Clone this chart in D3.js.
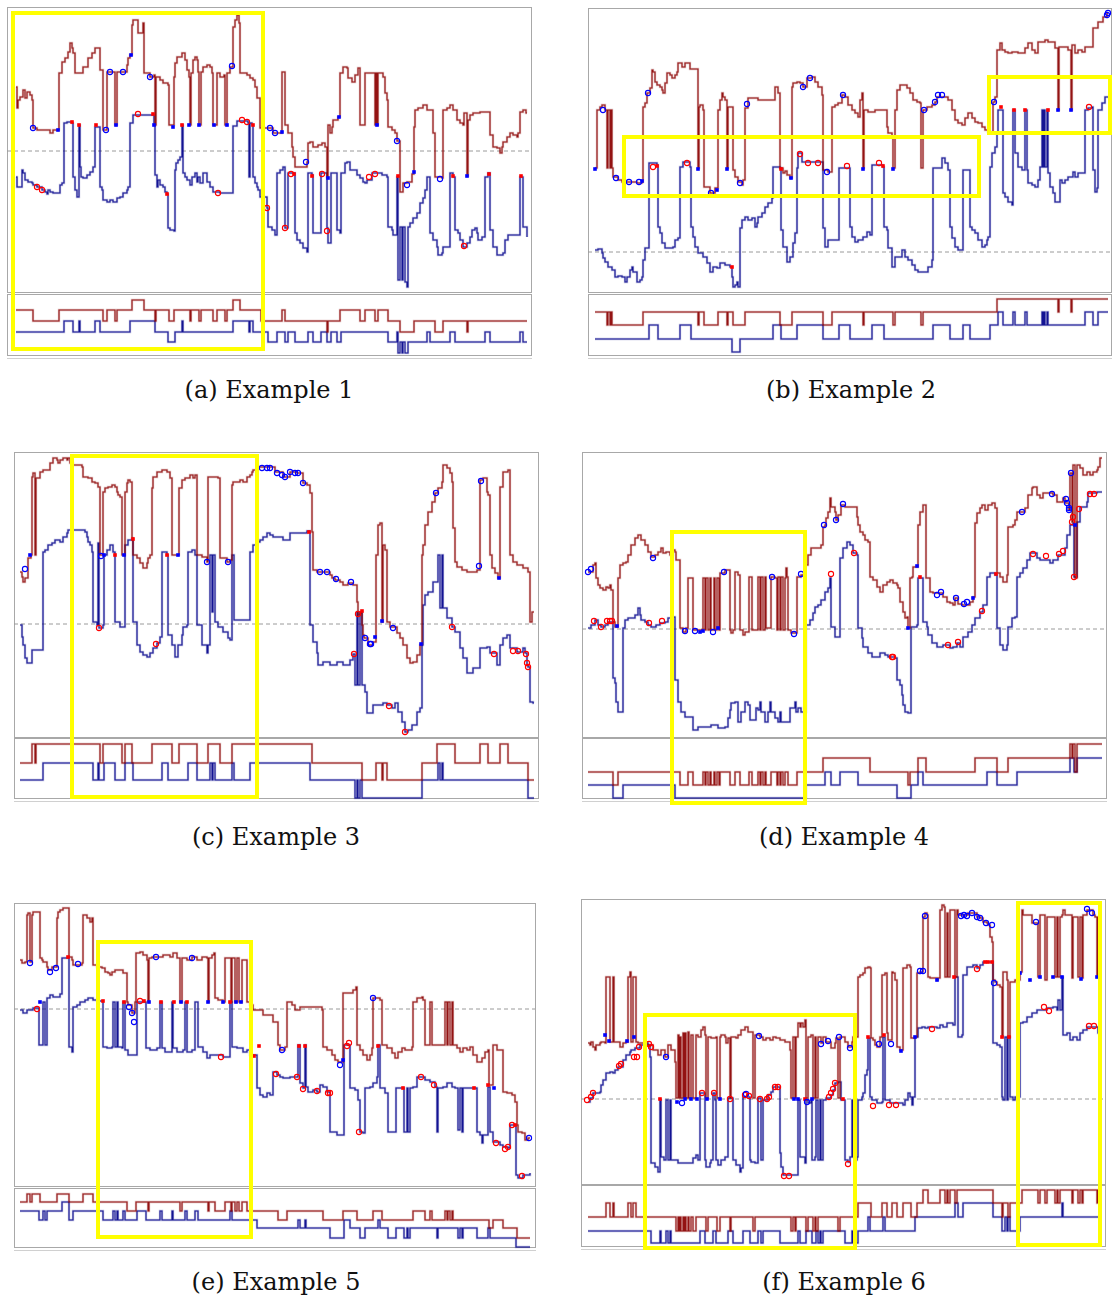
<!DOCTYPE html>
<html><head><meta charset="utf-8">
<script src="https://cdn.jsdelivr.net/npm/d3@7"></script>
<style>body{margin:0;background:#fff;} svg{display:block;}</style>
</head><body>
<svg id="chart" width="1113" height="1299"></svg>
<script>
// ===== Example 1 =====
const aRed=[[9,205],[10,184],[11,192],[13,195],[16,202],[18,194],[20,200],[23,197],[25,192],[26,164],[30,162],[43,159],[46,162],[52,219],[55,230],[58,234],[61,240],[63,249],[65,244],[66,239],[68,219],[76,225],[81,234],[85,239],[88,244],[93,222],[96,162],[100,220],[108,167],[110,220],[120,227],[121,234],[123,237],[125,267],[126,272],[131,259],[136,269],[137,219],[143,215],[147,217],[148,167],[149,215],[153,212],[156,209],[161,207],[162,167],[167,215],[168,229],[170,235],[175,239],[178,232],[180,222],[182,215],[183,167],[184,219],[186,232],[188,235],[190,232],[191,220],[192,167],[194,220],[196,225],[200,227],[203,225],[205,219],[206,167],[210,219],[213,215],[217,217],[218,167],[220,219],[223,225],[226,265],[228,272],[230,277],[232,269],[233,219],[240,217],[243,214],[246,212],[248,205],[250,194],[253,164],[263,164],[266,159],[275,220],[278,167],[281,159],[285,145],[286,135],[288,125],[300,130],[301,149],[303,150],[306,145],[311,147],[315,149],[318,145],[320,115],[321,167],[323,159],[325,165],[326,172],[331,175],[333,219],[336,225],[340,224],[341,214],[345,210],[348,217],[351,224],[353,167],[358,219],[368,167],[369,219],[370,167],[371,219],[376,215],[378,199],[380,192],[381,165],[385,162],[388,159],[390,151],[393,100],[396,109],[400,110],[405,118],[407,165],[408,182],[411,184],[416,187],[420,182],[426,159],[428,115],[435,114],[436,182],[440,184],[443,187],[446,182],[450,172],[453,169],[456,167],[457,179],[460,116],[461,172],[463,177],[466,179],[473,180],[483,157],[486,145],[490,144],[493,139],[495,145],[496,150],[500,155],[503,159],[506,157],[510,155],[511,159],[513,180],[516,182],[519,179],[520,179]];
const aBlue=[[9,115],[10,105],[15,122],[16,119],[18,112],[21,110],[25,109],[26,107],[30,105],[35,102],[38,100],[40,98],[41,102],[43,100],[46,99],[53,107],[55,109],[57,169],[60,170],[65,169],[66,115],[68,102],[70,95],[72,167],[73,125],[74,115],[76,114],[80,117],[83,120],[86,125],[88,165],[93,105],[95,102],[96,92],[100,90],[103,92],[106,90],[110,94],[113,95],[116,99],[120,102],[121,105],[123,169],[126,177],[146,177],[147,167],[148,117],[150,105],[151,112],[153,107],[156,105],[158,100],[160,98],[161,64],[163,62],[167,61],[168,122],[169,129],[171,132],[173,135],[175,167],[176,119],[178,115],[180,112],[183,107],[185,115],[188,119],[190,110],[191,115],[193,109],[196,119],[200,110],[203,105],[206,100],[213,99],[226,166],[230,171],[241,169],[242,115],[243,169],[245,167],[246,115],[248,109],[250,105],[251,102],[253,95],[260,84],[261,65],[265,62],[268,57],[270,119],[273,122],[276,125],[278,64],[281,119],[288,59],[290,52],[293,49],[296,44],[300,40],[301,119],[305,117],[306,59],[314,119],[320,64],[321,49],[324,119],[330,62],[333,59],[334,119],[338,129],[340,130],[343,122],[350,117],[353,114],[356,110],[358,109],[360,112],[365,119],[375,117],[380,115],[381,65],[385,62],[386,57],[390,115],[391,12],[393,65],[395,12],[396,65],[398,10],[400,5],[401,65],[403,69],[406,74],[410,79],[413,89],[416,94],[418,102],[420,115],[423,59],[426,52],[430,45],[431,37],[435,39],[436,45],[443,119],[446,115],[448,62],[451,59],[453,52],[456,45],[460,49],[463,55],[465,62],[468,64],[470,59],[471,52],[475,55],[478,115],[481,119],[483,62],[486,45],[490,37],[496,39],[498,52],[501,57],[513,115],[516,65],[520,55]];
const aDots=[[26,164,'bo'],[51,162,'bf'],[103,220,'bo'],[116,220,'bo'],[124,237,'bf'],[143,215,'bo'],[109,167,'bf'],[99,162,'bo'],[147,167,'bf'],[166,165,'bf'],[182,167,'bf'],[192,167,'bf'],[207,167,'bf'],[220,167,'bf'],[225,226,'bo'],[65,170,'rf'],[72,167,'rf'],[89,167,'rf'],[131,178,'ro'],[146,178,'rf'],[160,98,'rf'],[175,167,'rf'],[211,99,'ro'],[235,172,'ro'],[240,170,'ro'],[246,167,'rf'],[30,105,'ro'],[35,102,'ro'],[263,164,'bo'],[268,159,'bo'],[275,160,'bf'],[299,130,'bo'],[332,175,'bf'],[370,167,'bf'],[390,151,'bo'],[407,120,'bf'],[433,113,'bo'],[460,116,'bf'],[400,107,'bo'],[260,84,'ro'],[278,64,'ro'],[284,118,'ro'],[287,118,'rf'],[305,116,'rf'],[315,118,'ro'],[320,61,'ro'],[321,114,'bf'],[362,115,'ro'],[368,118,'ro'],[391,116,'rf'],[457,46,'ro'],[446,116,'rf'],[482,118,'rf'],[514,116,'rf']];
const aRedLow=[[9,46],[26,35],[52,46],[96,35],[100,46],[108,35],[110,46],[125,56],[137,46],[148,35],[149,46],[162,35],[167,46],[183,35],[184,46],[192,35],[194,46],[206,35],[210,46],[218,35],[220,46],[226,56],[233,46],[254,35],[275,46],[278,35],[320,24],[321,35],[333,46],[353,35],[358,46],[368,35],[371,46],[381,35],[393,24],[407,35],[428,24],[436,35],[460,24],[461,35],[520,35]];
const aBlueLow=[[9,24],[57,35],[66,24],[72,35],[73,24],[88,35],[93,24],[123,35],[148,24],[161,14],[168,24],[175,35],[176,24],[226,35],[242,24],[243,35],[246,24],[261,14],[270,24],[278,14],[281,24],[288,14],[301,24],[306,14],[314,24],[320,14],[324,24],[330,14],[334,24],[381,14],[390,24],[391,3],[393,14],[395,3],[396,14],[398,3],[401,14],[420,24],[423,14],[443,24],[448,14],[478,24],[483,14],[513,24],[516,14],[520,14]];
const aRects=[[6,256,279,-57]];

// ===== Example 2 =====
const bRed=[[7,124],[9,182],[12,185],[14,187],[17,182],[19,124],[20,182],[22,124],[23,182],[24,124],[25,115],[30,112],[34,110],[49,109],[54,110],[55,185],[57,189],[59,199],[62,204],[64,222],[65,220],[67,210],[69,207],[72,205],[74,202],[75,199],[77,209],[79,219],[82,217],[84,214],[87,217],[89,220],[90,229],[94,225],[97,229],[102,223],[110,124],[111,185],[112,187],[115,182],[116,105],[122,99],[127,104],[130,182],[132,192],[134,199],[135,195],[137,192],[139,124],[140,185],[145,122],[147,115],[150,110],[154,107],[155,112],[157,184],[160,194],[170,192],[187,205],[190,199],[192,124],[195,119],[197,121],[199,117],[202,114],[204,205],[205,209],[209,210],[212,209],[215,205],[219,214],[224,215],[227,210],[230,205],[234,197],[235,122],[240,120],[244,185],[247,187],[250,189],[254,197],[257,195],[260,187],[264,182],[267,179],[270,175],[272,192],[274,199],[275,124],[276,182],[280,180],[287,182],[299,165],[300,159],[304,155],[305,124],[307,182],[309,202],[312,207],[319,204],[322,199],[325,192],[329,190],[332,189],[333,124],[335,182],[339,185],[344,187],[347,190],[349,195],[360,192],[364,182],[367,172],[370,169],[374,167],[377,174],[380,179],[384,174],[387,170],[390,169],[394,165],[397,162],[400,160],[405,190],[407,195],[409,242],[412,249],[414,242],[417,240],[420,239],[424,240],[430,239],[437,244],[440,249],[444,242],[447,239],[450,250],[457,252],[460,250],[467,244],[470,182],[471,245],[480,242],[483,182],[484,247],[487,239],[490,242],[494,240],[497,245],[505,264],[510,270],[515,275],[519,279],[520,279]];
const bBlue=[[7,42],[10,43],[14,39],[15,34],[17,30],[20,25],[24,22],[27,15],[30,16],[34,15],[37,10],[39,15],[42,22],[44,25],[45,20],[49,10],[52,12],[54,15],[55,32],[57,44],[61,129],[69,127],[70,65],[72,59],[74,49],[77,44],[85,45],[87,52],[90,54],[92,125],[95,130],[102,125],[103,65],[105,55],[107,45],[110,39],[115,35],[119,29],[122,20],[125,25],[129,24],[132,29],[137,27],[142,25],[144,15],[145,5],[147,7],[149,10],[150,5],[152,64],[154,72],[157,75],[160,72],[164,74],[167,65],[169,69],[170,75],[174,79],[177,85],[180,89],[184,94],[185,125],[192,124],[193,62],[195,45],[199,30],[202,35],[205,49],[207,59],[209,124],[210,139],[214,130],[235,64],[237,45],[240,52],[251,124],[262,65],[264,55],[267,50],[270,52],[275,55],[279,60],[282,57],[284,127],[295,125],[296,65],[299,62],[300,44],[304,25],[307,35],[314,42],[317,35],[320,32],[324,27],[327,22],[330,20],[340,25],[344,32],[345,124],[354,134],[357,129],[360,122],[362,65],[364,54],[367,45],[370,42],[375,122],[382,65],[384,62],[387,59],[390,52],[394,45],[397,47],[399,52],[400,55],[402,125],[404,139],[407,145],[409,159],[410,182],[415,99],[417,95],[420,90],[424,87],[425,182],[427,139],[430,125],[434,122],[437,182],[439,122],[440,109],[444,107],[447,105],[450,112],[452,125],[454,182],[455,125],[456,182],[457,125],[459,182],[460,119],[462,105],[465,99],[467,90],[472,112],[474,109],[477,112],[480,115],[485,120],[487,115],[490,119],[497,182],[500,184],[504,185],[505,122],[507,100],[509,104],[510,182],[514,189],[517,195],[520,195]];
const bDots=[[7,123,'bf'],[15,182,'bo'],[28,114,'bo'],[41,110,'bo'],[51,110,'bo'],[54,111,'bf'],[60,199,'bo'],[110,123,'bf'],[123,99,'bo'],[129,102,'bf'],[139,123,'bf'],[152,109,'bo'],[159,188,'bo'],[193,123,'rf'],[203,114,'bf'],[215,205,'bo'],[222,214,'bo'],[239,120,'bo'],[255,197,'bo'],[65,125,'ro'],[69,126,'rf'],[99,129,'ro'],[144,25,'rf'],[212,138,'ro'],[220,129,'ro'],[230,129,'ro'],[259,126,'ro'],[275,123,'bf'],[291,129,'ro'],[295,126,'rf'],[305,123,'bf'],[336,182,'bo'],[347,190,'bo'],[350,197,'bo'],[354,197,'bo'],[406,190,'bo'],[413,185,'rf'],[426,182,'rf'],[437,182,'rf'],[460,182,'rf'],[470,182,'bf'],[483,182,'bf'],[501,185,'ro'],[519,277,'bo'],[520,279,'bo']];
const bRedLow=[[7,44],[19,31],[20,44],[22,31],[23,44],[24,31],[55,44],[110,31],[111,44],[116,31],[130,44],[139,31],[140,44],[145,31],[157,44],[192,31],[204,44],[235,31],[244,44],[275,31],[276,44],[305,31],[307,44],[333,31],[335,44],[409,57],[470,44],[471,57],[483,44],[484,57],[520,57]];
const bBlueLow=[[7,17],[61,31],[70,17],[92,31],[103,17],[144,4],[152,17],[185,31],[193,17],[209,31],[235,17],[251,31],[262,17],[284,31],[296,17],[345,31],[362,17],[375,31],[382,17],[402,31],[410,44],[415,31],[425,44],[427,31],[437,44],[439,31],[454,44],[455,31],[456,44],[457,31],[459,44],[460,31],[497,44],[505,31],[510,44],[520,44]];
const bRects=[[36,391,155,96],[401,522,215,159]];

// ===== Example 3 =====
const cRed=[[6,165],[8,160],[9,155],[11,159],[14,179],[17,182],[18,260],[19,264],[21,182],[22,259],[26,265],[29,267],[36,274],[39,279],[43,277],[44,274],[46,277],[49,279],[53,277],[54,279],[56,274],[59,272],[68,270],[69,260],[74,259],[78,255],[81,254],[84,250],[86,182],[89,245],[91,249],[94,250],[98,252],[101,250],[103,245],[104,242],[106,240],[108,182],[111,245],[113,254],[114,257],[116,255],[118,199],[119,182],[123,179],[126,174],[129,169],[133,174],[134,179],[136,182],[138,249],[139,260],[143,265],[148,267],[153,265],[156,259],[158,182],[165,249],[168,257],[171,259],[176,262],[179,259],[181,262],[183,182],[188,180],[193,175],[194,260],[204,259],[206,179],[213,175],[216,177],[218,252],[219,255],[226,257],[229,255],[233,260],[236,262],[238,265],[239,267],[244,270],[256,270],[261,265],[269,260],[276,265],[283,264],[289,254],[293,252],[296,244],[298,205],[299,167],[303,165],[316,162],[318,159],[321,157],[326,155],[329,152],[334,154],[339,152],[343,135],[344,122],[346,124],[348,112],[349,102],[350,99],[354,92],[359,95],[362,182],[364,212],[366,214],[368,115],[369,192],[371,187],[373,115],[376,110],[383,104],[386,99],[389,92],[393,79],[396,74],[399,75],[403,82],[406,92],[408,182],[409,192],[411,212],[414,225],[418,235],[421,244],[424,249],[428,255],[429,272],[433,269],[436,264],[438,255],[439,209],[441,175],[443,170],[448,167],[453,165],[463,167],[466,257],[469,259],[473,245],[474,242],[476,182],[478,169],[481,164],[484,159],[486,250],[489,265],[494,267],[496,182],[499,175],[503,172],[509,169],[514,165],[516,115],[518,125],[520,125]];
const cBlue=[[6,112],[8,100],[9,92],[11,79],[13,74],[18,87],[29,185],[31,187],[34,192],[38,194],[41,197],[46,195],[49,200],[53,204],[54,207],[71,205],[73,200],[74,195],[76,192],[78,185],[79,115],[83,112],[84,194],[85,109],[89,112],[90,182],[93,187],[96,192],[99,185],[101,115],[106,110],[111,192],[114,197],[118,198],[119,115],[123,92],[126,85],[129,82],[133,80],[136,84],[139,89],[143,94],[146,100],[148,185],[153,182],[154,102],[158,92],[161,80],[164,92],[168,102],[169,110],[173,112],[174,185],[178,187],[181,182],[183,112],[188,92],[193,84],[194,92],[196,182],[198,125],[199,182],[201,115],[204,110],[209,105],[214,99],[216,97],[218,182],[220,117],[236,185],[239,192],[243,195],[246,197],[249,200],[253,204],[256,202],[259,200],[269,197],[276,204],[293,206],[296,112],[299,95],[303,84],[304,72],[309,75],[316,72],[323,75],[329,72],[336,77],[339,83],[341,52],[343,125],[344,52],[346,125],[348,52],[351,45],[353,24],[359,32],[369,34],[373,32],[378,29],[381,34],[384,25],[388,15],[391,5],[394,7],[398,12],[403,25],[406,29],[408,92],[409,132],[411,142],[414,145],[419,155],[424,182],[426,129],[428,182],[429,129],[433,119],[438,110],[441,105],[446,89],[449,79],[453,64],[459,69],[466,89],[473,90],[476,84],[483,72],[486,92],[489,99],[493,102],[496,89],[503,85],[509,89],[511,84],[513,72],[514,70],[516,35],[519,34],[520,34]];
const cDots=[[11,168,'bo'],[16,182,'bf'],[87,181,'bo'],[90,182,'bf'],[101,182,'rf'],[110,182,'bf'],[119,198,'rf'],[153,182,'rf'],[164,182,'bf'],[193,175,'bo'],[214,175,'bo'],[248,269,'bo'],[253,269,'bo'],[256,269,'bo'],[85,109,'ro'],[142,93,'ro'],[263,264,'bo'],[268,262,'bo'],[271,260,'bo'],[276,265,'bo'],[281,264,'bo'],[284,264,'bo'],[289,254,'bo'],[306,165,'bo'],[313,165,'bo'],[322,158,'bo'],[337,155,'bo'],[344,123,'ro'],[348,126,'rf'],[340,83,'ro'],[351,99,'bo'],[356,93,'bo'],[357,93,'bo'],[361,100,'bf'],[368,116,'bf'],[379,109,'bo'],[295,205,'rf'],[375,31,'ro'],[391,5,'ro'],[407,93,'bf'],[422,244,'bo'],[465,171,'bo'],[467,256,'bo'],[485,159,'bf'],[438,110,'ro'],[480,83,'ro'],[499,86,'ro'],[504,86,'ro'],[512,83,'ro'],[513,74,'ro'],[514,70,'ro']];
const cRedLow=[[6,36],[18,55],[21,36],[22,55],[86,36],[89,55],[108,36],[111,55],[118,36],[138,55],[158,36],[165,55],[183,36],[194,55],[206,36],[218,55],[298,36],[348,19],[362,36],[368,19],[369,36],[373,19],[408,36],[423,55],[441,36],[466,55],[474,36],[486,55],[494,36],[514,19],[520,19]];
const cBlueLow=[[6,19],[29,36],[79,19],[84,36],[85,19],[90,36],[101,19],[111,36],[119,19],[148,36],[154,19],[174,36],[183,19],[196,36],[198,19],[199,36],[201,19],[218,36],[220,19],[236,36],[296,19],[341,1],[343,19],[344,1],[346,19],[348,1],[408,19],[424,36],[426,19],[428,36],[429,19],[514,1],[520,1]];
const cRects=[[58,243,281,-60]];

// ===== Example 4 =====
const dRed=[[6,165],[11,172],[13,174],[14,159],[16,152],[18,149],[21,147],[24,150],[26,149],[28,152],[29,147],[31,115],[33,110],[36,159],[38,172],[41,174],[44,175],[46,182],[49,192],[53,199],[56,202],[59,197],[63,192],[66,185],[69,180],[73,182],[76,185],[79,189],[81,184],[84,185],[88,182],[91,187],[93,185],[94,177],[98,109],[101,105],[104,109],[106,159],[109,159],[111,107],[121,159],[123,107],[124,159],[126,107],[128,159],[129,107],[132,159],[133,107],[135,159],[137,107],[138,164],[143,167],[148,107],[149,104],[151,107],[153,165],[156,162],[158,107],[161,102],[163,105],[167,160],[170,107],[176,160],[178,107],[179,160],[181,107],[183,160],[184,109],[189,160],[193,159],[195,107],[196,160],[198,107],[199,160],[201,107],[203,159],[204,169],[205,160],[206,107],[209,104],[214,104],[215,160],[219,162],[223,172],[226,182],[229,189],[236,189],[239,192],[241,210],[243,212],[244,219],[246,225],[248,239],[249,230],[253,225],[254,217],[256,222],[259,232],[263,230],[271,230],[275,220],[276,212],[278,205],[281,202],[283,197],[286,195],[288,160],[291,157],[295,150],[298,145],[301,152],[305,155],[308,157],[311,154],[315,152],[316,149],[318,135],[321,125],[323,119],[325,120],[326,109],[328,159],[330,160],[331,170],[336,212],[338,225],[341,232],[344,159],[348,145],[351,144],[361,140],[365,135],[368,134],[371,132],[373,139],[376,133],[380,132],[388,135],[391,140],[393,214],[395,224],[398,229],[400,232],[403,227],[406,232],[410,234],[413,229],[415,164],[418,160],[421,155],[425,162],[426,210],[431,212],[433,217],[435,225],[443,229],[446,242],[450,249],[451,250],[455,242],[458,239],[461,244],[471,242],[475,235],[481,239],[483,234],[487,227],[488,264],[490,215],[491,272],[493,159],[495,272],[498,269],[501,262],[505,265],[508,262],[511,265],[515,267],[516,270],[518,279],[520,279]];
const dBlue=[[6,109],[9,112],[13,117],[16,112],[19,110],[23,112],[26,115],[31,59],[33,54],[34,35],[36,25],[41,109],[43,117],[46,119],[53,122],[56,129],[58,122],[59,117],[63,115],[66,112],[69,110],[74,112],[78,114],[83,115],[86,119],[91,120],[93,57],[96,35],[99,25],[103,20],[111,7],[116,10],[129,12],[136,9],[143,10],[146,19],[148,27],[149,34],[153,35],[156,15],[159,25],[163,35],[166,32],[168,17],[174,29],[176,27],[178,35],[179,25],[183,15],[186,25],[188,35],[189,25],[193,19],[196,15],[198,25],[199,15],[208,29],[213,35],[214,25],[216,29],[219,25],[224,112],[228,117],[231,124],[233,130],[236,132],[239,137],[243,145],[246,149],[248,159],[249,110],[253,100],[258,179],[261,189],[265,195],[268,192],[271,184],[275,182],[276,109],[280,99],[281,90],[286,84],[290,80],[298,84],[303,82],[306,80],[313,79],[315,57],[318,52],[320,42],[321,32],[323,25],[326,24],[329,110],[335,112],[336,159],[340,159],[341,115],[345,110],[346,102],[350,94],[355,90],[361,92],[368,89],[371,90],[375,94],[378,90],[381,100],[386,105],[390,112],[393,119],[398,125],[401,132],[405,160],[408,164],[413,162],[415,109],[418,92],[421,87],[425,92],[426,110],[430,119],[433,120],[435,160],[438,164],[441,169],[445,177],[448,184],[455,179],[458,177],[468,174],[471,177],[476,182],[483,189],[485,202],[488,212],[491,214],[492,160],[495,215],[498,230],[505,235],[506,244],[515,245],[520,245]];
const dDots=[[6,165,'bo'],[9,168,'bo'],[12,116,'ro'],[19,110,'ro'],[25,116,'ro'],[28,116,'ro'],[30,116,'ro'],[35,111,'bf'],[71,179,'bo'],[67,114,'ro'],[80,116,'ro'],[103,106,'bo'],[113,106,'bo'],[118,105,'bf'],[121,106,'bf'],[131,105,'bo'],[136,109,'bf'],[142,165,'bo'],[190,160,'bo'],[212,103,'bo'],[219,163,'bo'],[242,212,'bo'],[254,217,'bo'],[261,233,'bo'],[249,163,'ro'],[272,184,'ro'],[310,80,'ro'],[311,80,'ro'],[326,109,'bf'],[335,171,'bf'],[338,160,'rf'],[355,142,'bo'],[359,145,'bo'],[374,139,'bo'],[382,133,'bo'],[385,135,'bo'],[391,139,'bf'],[414,163,'rf'],[440,225,'bo'],[470,243,'bo'],[484,238,'bo'],[485,234,'bo'],[487,229,'bo'],[487,227,'bo'],[489,264,'bo'],[366,92,'ro'],[376,95,'ro'],[400,126,'ro'],[451,183,'ro'],[464,181,'ro'],[477,183,'ro'],[481,186,'ro'],[490,215,'ro'],[491,220,'ro'],[492,160,'ro'],[493,212,'bf'],[497,228,'ro'],[508,243,'ro'],[512,243,'ro']];
const dRedLow=[[6,27],[31,14],[36,27],[98,14],[106,27],[111,14],[121,27],[123,14],[124,27],[126,14],[128,27],[129,14],[132,27],[133,14],[135,27],[137,14],[138,27],[148,14],[153,27],[158,14],[167,27],[170,14],[176,27],[178,14],[179,27],[181,14],[183,27],[184,14],[189,27],[195,14],[196,27],[198,14],[199,27],[201,14],[203,27],[206,14],[215,27],[241,41],[288,27],[326,14],[328,27],[336,41],[344,27],[393,41],[415,27],[426,41],[488,55],[490,41],[491,55],[493,27],[495,55],[520,55]];
const dBlueLow=[[6,14],[31,1],[41,14],[93,1],[224,14],[243,27],[249,14],[258,27],[276,14],[315,1],[329,14],[336,27],[341,14],[405,27],[415,14],[435,27],[488,41],[492,27],[495,41],[520,41]];
const dRects=[[90,223,205,-66]];

// ===== Example 5 =====
const eRed=[[6,226],[8,223],[11,224],[13,271],[14,273],[16,224],[18,271],[19,274],[26,228],[28,226],[29,224],[33,219],[34,216],[38,219],[43,268],[44,274],[46,276],[49,278],[55,229],[58,226],[59,221],[68,223],[69,271],[73,268],[76,264],[78,268],[79,221],[83,219],[88,218],[91,214],[94,213],[96,211],[98,214],[101,216],[109,213],[113,184],[114,181],[118,173],[121,184],[122,233],[126,234],[129,231],[133,226],[134,184],[135,228],[138,229],[149,231],[156,229],[159,233],[163,228],[166,184],[168,228],[173,226],[178,229],[183,226],[188,229],[193,228],[194,184],[195,228],[198,231],[200,233],[201,188],[204,186],[209,184],[211,228],[216,228],[217,184],[218,228],[221,184],[223,228],[225,184],[228,226],[233,184],[236,181],[239,176],[249,171],[259,164],[264,141],[266,136],[271,139],[273,184],[278,181],[281,176],[286,179],[303,179],[308,176],[309,139],[313,136],[318,131],[321,126],[324,124],[329,193],[339,196],[342,199],[343,141],[346,136],[349,131],[353,126],[356,131],[358,138],[359,188],[366,186],[368,141],[373,138],[378,133],[381,128],[384,134],[388,138],[391,136],[398,139],[399,184],[403,188],[408,189],[409,186],[411,141],[416,184],[418,141],[428,141],[431,184],[433,141],[434,184],[436,141],[438,184],[439,141],[443,138],[446,134],[449,138],[453,136],[456,139],[459,131],[463,124],[468,128],[471,134],[474,136],[475,101],[479,141],[483,136],[489,94],[493,93],[498,91],[501,84],[503,61],[504,54],[508,53],[511,46],[514,48],[516,48]];
const eBlue=[[6,176],[9,173],[13,176],[19,178],[25,141],[29,184],[31,141],[33,188],[36,191],[39,189],[46,192],[48,228],[55,139],[58,134],[59,179],[63,181],[66,184],[71,186],[74,188],[79,186],[83,185],[89,139],[93,138],[98,139],[99,184],[101,139],[103,184],[104,139],[108,138],[109,184],[111,136],[114,131],[121,131],[123,184],[132,138],[136,136],[143,138],[146,184],[148,138],[151,134],[158,184],[159,138],[163,134],[169,136],[171,184],[173,134],[178,136],[181,184],[184,139],[189,134],[193,128],[196,131],[209,129],[214,129],[216,184],[218,139],[223,138],[229,134],[233,136],[236,131],[243,98],[246,91],[249,89],[253,93],[256,91],[259,114],[263,111],[266,109],[269,108],[276,109],[284,141],[286,103],[289,98],[291,141],[292,99],[294,94],[299,96],[303,94],[306,101],[309,99],[313,94],[316,54],[323,51],[330,141],[336,98],[341,96],[344,86],[346,54],[349,53],[351,98],[356,99],[359,103],[363,109],[364,141],[366,98],[371,93],[374,54],[382,98],[390,54],[393,98],[394,54],[396,98],[399,99],[403,109],[411,106],[416,104],[421,99],[423,54],[424,98],[429,99],[433,103],[438,99],[441,98],[444,56],[446,98],[448,54],[449,98],[463,54],[466,51],[468,43],[469,51],[474,99],[476,54],[479,44],[486,41],[489,39],[494,38],[496,61],[502,11],[504,8],[509,11],[516,13]];
const eDots=[[16,223,'bo'],[23,177,'ro'],[26,184,'bf'],[36,214,'bo'],[42,218,'bo'],[54,229,'rf'],[64,222,'bo'],[89,185,'rf'],[110,184,'rf'],[115,179,'bo'],[118,173,'bo'],[120,164,'bo'],[126,185,'ro'],[130,185,'rf'],[135,184,'bf'],[142,229,'bo'],[147,184,'rf'],[160,184,'rf'],[167,184,'bf'],[173,184,'rf'],[178,228,'bo'],[194,184,'bf'],[209,184,'bf'],[216,184,'rf'],[222,184,'bf'],[227,184,'bf'],[207,129,'ro'],[240,130,'rf'],[245,140,'rf'],[262,112,'ro'],[268,136,'bo'],[283,109,'ro'],[285,140,'rf'],[289,97,'ro'],[291,140,'rf'],[303,95,'ro'],[314,93,'ro'],[316,93,'ro'],[326,121,'bo'],[329,126,'bf'],[333,140,'ro'],[335,143,'ro'],[345,54,'ro'],[359,188,'bo'],[364,140,'rf'],[389,98,'rf'],[407,109,'ro'],[420,101,'ro'],[460,98,'rf'],[474,101,'rf'],[480,98,'bf'],[482,43,'ro'],[491,37,'ro'],[494,39,'ro'],[498,61,'ro'],[501,61,'rf'],[508,10,'ro'],[515,48,'bo']];
const eRedLow=[[6,46],[13,54],[16,46],[18,54],[26,46],[43,54],[55,46],[69,54],[79,46],[113,37],[122,46],[134,37],[135,46],[166,37],[168,46],[194,37],[195,46],[201,37],[211,46],[217,37],[218,46],[221,37],[223,46],[225,37],[228,46],[233,37],[264,28],[273,37],[309,28],[329,37],[343,28],[359,37],[368,28],[399,37],[411,28],[416,37],[418,28],[431,37],[433,28],[434,37],[436,28],[438,37],[439,28],[475,20],[479,28],[489,20],[503,10],[516,10]];
const eBlueLow=[[6,37],[25,28],[29,37],[31,28],[33,37],[48,46],[55,28],[59,37],[89,28],[99,37],[101,28],[103,37],[104,28],[109,37],[111,28],[123,37],[132,28],[146,37],[148,28],[158,37],[159,28],[171,37],[173,28],[181,37],[184,28],[216,37],[218,28],[243,20],[284,28],[286,20],[291,28],[292,20],[316,10],[330,28],[336,20],[346,10],[351,20],[364,28],[366,20],[374,10],[382,20],[390,10],[393,20],[394,10],[396,20],[423,10],[424,20],[444,10],[446,20],[448,10],[449,20],[463,10],[474,20],[476,10],[502,1],[516,1]];
const eRects=[[84,237,244,-51]];

// ===== Example 6 =====
const fRed=[[7,141],[9,139],[10,142],[12,137],[14,134],[15,139],[19,141],[20,142],[24,141],[25,207],[27,207],[29,142],[32,207],[33,142],[39,137],[42,141],[45,142],[47,207],[49,212],[50,142],[52,207],[55,142],[57,141],[64,139],[72,134],[77,129],[80,134],[84,127],[87,139],[90,134],[94,122],[95,86],[97,149],[98,86],[99,147],[100,86],[102,151],[103,86],[104,151],[105,86],[107,152],[108,86],[110,149],[112,86],[115,149],[117,147],[120,154],[122,157],[124,149],[125,86],[127,147],[130,146],[135,147],[136,86],[139,147],[140,149],[144,147],[145,141],[147,146],[149,86],[150,147],[155,146],[157,149],[160,154],[164,157],[167,152],[172,86],[174,149],[179,147],[182,144],[185,146],[189,144],[192,147],[195,146],[199,144],[204,142],[209,134],[210,86],[212,147],[214,86],[215,147],[217,161],[219,157],[220,161],[222,157],[224,164],[225,86],[227,147],[230,149],[232,86],[234,147],[235,86],[237,147],[240,141],[242,147],[245,142],[250,136],[254,141],[255,146],[257,86],[259,147],[264,142],[266,142],[267,137],[271,142],[272,147],[277,207],[279,209],[282,211],[284,216],[287,217],[289,216],[290,146],[292,144],[294,139],[296,137],[299,147],[301,209],[304,211],[306,151],[307,144],[311,212],[312,211],[314,204],[316,137],[319,134],[322,216],[326,219],[329,217],[330,146],[334,147],[336,211],[339,212],[342,267],[344,271],[346,269],[347,207],[349,206],[356,204],[357,206],[359,274],[361,279],[363,277],[364,207],[366,271],[367,207],[369,274],[374,207],[376,274],[377,269],[387,271],[396,267],[399,266],[402,262],[406,261],[407,259],[409,247],[411,242],[412,204],[414,202],[416,199],[419,197],[421,147],[422,212],[426,204],[427,147],[429,202],[434,204],[439,212],[441,274],[442,269],[451,261],[457,207],[459,269],[464,204],[466,267],[474,207],[476,267],[477,207],[479,267],[481,269],[482,274],[484,269],[491,206],[492,267],[497,207],[499,267],[501,206],[502,269],[506,274],[512,269],[514,267],[516,207],[517,267],[518,207],[520,207]];
const fBlue=[[7,82],[9,86],[12,91],[19,92],[20,99],[22,104],[25,111],[29,112],[32,111],[34,114],[37,117],[42,124],[45,129],[49,132],[50,134],[54,136],[59,139],[64,141],[67,139],[69,127],[70,21],[74,17],[77,12],[79,84],[80,27],[83,24],[85,84],[87,24],[89,84],[90,24],[97,21],[112,26],[115,29],[117,24],[119,91],[124,24],[125,17],[129,21],[130,24],[132,91],[134,84],[135,24],[137,19],[140,24],[144,27],[147,86],[152,24],[155,19],[159,12],[160,16],[162,87],[169,24],[170,22],[174,21],[177,86],[180,24],[182,84],[187,89],[190,92],[192,97],[199,31],[200,17],[202,9],[217,84],[219,27],[224,21],[225,84],[227,81],[230,84],[231,24],[234,27],[235,84],[237,24],[239,84],[240,24],[242,84],[245,86],[250,89],[252,94],[254,101],[257,102],[260,84],[264,24],[267,22],[269,27],[271,84],[272,27],[274,24],[276,27],[277,84],[281,87],[282,91],[284,109],[286,114],[287,146],[289,87],[291,84],[296,81],[301,82],[302,147],[304,84],[309,81],[322,79],[324,84],[327,91],[329,87],[331,79],[332,87],[334,147],[337,156],[341,157],[344,156],[347,157],[356,156],[359,159],[362,157],[366,161],[372,159],[374,207],[377,147],[381,149],[382,209],[386,217],[392,219],[396,216],[399,219],[402,222],[412,141],[416,139],[419,137],[421,87],[422,84],[424,147],[426,84],[427,147],[429,87],[432,84],[434,87],[439,161],[442,162],[446,167],[451,171],[456,174],[466,176],[472,177],[476,174],[477,184],[479,174],[481,207],[482,149],[486,151],[489,144],[492,147],[496,144],[499,151],[502,154],[506,157],[516,157],[517,151],[520,151]];
const fDots=[[6,84,'ro'],[10,87,'ro'],[12,91,'ro'],[24,149,'bf'],[28,143,'bf'],[46,143,'bf'],[53,147,'bf'],[38,118,'ro'],[40,120,'ro'],[53,127,'ro'],[56,127,'ro'],[58,137,'ro'],[68,140,'ro'],[70,137,'ro'],[85,127,'bo'],[79,85,'rf'],[96,82,'bf'],[101,81,'bo'],[104,85,'bf'],[110,85,'bf'],[116,85,'bf'],[121,91,'ro'],[126,85,'bf'],[133,91,'ro'],[139,85,'bf'],[149,85,'ro'],[164,89,'ro'],[165,90,'bo'],[168,88,'ro'],[178,148,'bo'],[179,85,'ro'],[186,85,'ro'],[188,87,'ro'],[194,97,'ro'],[197,97,'ro'],[203,8,'ro'],[208,8,'ro'],[213,85,'bf'],[217,85,'bf'],[224,85,'rf'],[226,82,'bo'],[231,85,'bf'],[240,140,'bo'],[247,143,'bo'],[248,87,'ro'],[250,91,'ro'],[252,95,'ro'],[254,101,'ro'],[258,147,'bo'],[262,85,'rf'],[269,136,'bo'],[267,20,'ro'],[287,147,'rf'],[298,140,'bo'],[292,78,'ro'],[303,149,'rf'],[310,140,'bo'],[308,79,'ro'],[315,79,'ro'],[320,133,'bf'],[334,147,'bf'],[339,213,'bo'],[342,213,'bo'],[351,155,'ro'],[356,204,'bf'],[344,268,'bo'],[373,207,'rf'],[380,268,'bo'],[383,269,'bo'],[386,268,'bo'],[391,271,'bo'],[396,267,'bo'],[399,266,'bo'],[405,261,'bo'],[411,259,'bo'],[396,215,'ro'],[404,222,'rf'],[407,222,'rf'],[411,222,'rf'],[413,201,'bo'],[421,147,'rf'],[428,147,'rf'],[439,211,'bf'],[449,204,'bf'],[455,262,'bo'],[459,207,'bf'],[472,207,'bf'],[506,275,'bo'],[511,271,'bo'],[481,207,'bf'],[500,205,'bf'],[516,207,'bf'],[463,177,'ro'],[468,173,'ro'],[508,158,'ro'],[513,158,'ro']];
const fRedLow=[[7,30],[25,44],[29,30],[32,44],[33,30],[47,44],[50,30],[52,44],[55,30],[95,16],[97,30],[98,16],[99,30],[100,16],[102,30],[103,16],[104,30],[105,16],[107,30],[108,16],[110,30],[112,16],[115,30],[125,16],[127,30],[136,16],[139,30],[149,16],[150,30],[172,16],[174,30],[210,16],[212,30],[214,16],[215,30],[225,16],[227,30],[232,16],[234,30],[235,16],[237,30],[257,16],[259,30],[277,44],[290,30],[301,44],[306,30],[311,44],[316,30],[322,44],[330,30],[336,44],[342,57],[347,44],[359,57],[364,44],[366,57],[367,44],[369,57],[374,44],[376,57],[412,44],[421,30],[422,44],[427,30],[429,44],[441,57],[457,44],[459,57],[464,44],[466,57],[474,44],[476,57],[477,44],[479,57],[491,44],[492,57],[497,44],[499,57],[501,44],[502,57],[516,44],[517,57],[518,44],[520,44]];
const fBlueLow=[[7,16],[70,4],[79,16],[80,4],[85,16],[87,4],[89,16],[90,4],[119,16],[124,4],[132,16],[135,4],[147,16],[152,4],[162,16],[169,4],[177,16],[180,4],[182,16],[199,4],[217,16],[219,4],[225,16],[231,4],[235,16],[237,4],[239,16],[240,4],[242,16],[264,4],[271,16],[272,4],[277,16],[287,30],[289,16],[302,30],[304,16],[334,30],[374,44],[377,30],[382,44],[412,30],[421,16],[424,30],[426,16],[427,30],[429,16],[439,30],[481,44],[482,30],[520,30]];
const fRects=[[64,274,169,-64],[437,519,281,-61]];

// reference (dashed) levels and captions
const refLevels=[141,40,113,108,177,85];
const captions=['(a) Example 1','(b) Example 2','(c) Example 3','(d) Example 4','(e) Example 5','(f) Example 6'];

// ===== layout =====
const layout=[
 {left:7,right:531,top:7,bottom:292,lTop:294,lBottom:356,capX:269,capY:398},
 {left:588,right:1111,top:8,bottom:292,lTop:294,lBottom:356,capX:851,capY:398},
 {left:14,right:538,top:452,bottom:737,lTop:738,lBottom:799,capX:276,capY:845},
 {left:582,right:1106,top:452,bottom:737,lTop:738,lBottom:799,capX:844,capY:845},
 {left:14,right:535,top:903,bottom:1186,lTop:1188,lBottom:1248,capX:276,capY:1290},
 {left:581,right:1105,top:899,bottom:1184,lTop:1185,lBottom:1247,capX:844,capY:1290}
];
const series=[
 [aRed,aBlue,aDots,aRedLow,aBlueLow,aRects],
 [bRed,bBlue,bDots,bRedLow,bBlueLow,bRects],
 [cRed,cBlue,cDots,cRedLow,cBlueLow,cRects],
 [dRed,dBlue,dDots,dRedLow,dBlueLow,dRects],
 [eRed,eBlue,eDots,eRedLow,eBlueLow,eRects],
 [fRed,fBlue,fDots,fRedLow,fBlueLow,fRects]
];

const RED='#8b0000', BLUE='#00008b', BOX='#a8a8a8';
const svg=d3.select('#chart');
svg.append('rect').attr('width',1113).attr('height',1299).attr('fill','#fff');

layout.forEach((P,i)=>{
  const [red,blue,dots,redLow,blueLow,rects]=series[i];
  const g=svg.append('g');
  const W=P.right-P.left, H=P.bottom-P.top, HL=P.lBottom-P.lTop;
  const x=d3.scaleLinear().domain([0,W]).range([P.left,P.right]);
  const y=d3.scaleLinear().domain([0,H]).range([P.bottom,P.top]);
  const yl=d3.scaleLinear().domain([0,HL]).range([P.lBottom,P.lTop]);

  g.append('rect').attr('x',P.left+0.5).attr('y',P.top+0.5).attr('width',W).attr('height',H)
   .attr('fill','#fff').attr('stroke',BOX).attr('stroke-width',1);
  g.append('rect').attr('x',P.left+0.5).attr('y',P.lTop+0.5).attr('width',W).attr('height',HL-1)
   .attr('fill','#fff').attr('stroke',BOX).attr('stroke-width',1);
  g.append('line').attr('x1',P.left).attr('x2',P.right+1).attr('y1',P.lBottom+2.5).attr('y2',P.lBottom+2.5)
   .attr('stroke','#d0d0d0').attr('stroke-width',1);

  g.append('line').attr('x1',x(0)).attr('x2',x(W)).attr('y1',y(refLevels[i])).attr('y2',y(refLevels[i]))
   .attr('stroke','#9a9a9a').attr('stroke-width',1).attr('stroke-dasharray','4,3');

  const line=d3.line().x(d=>x(d[0])).y(d=>y(d[1])).curve(d3.curveStepAfter);
  const lineL=d3.line().x(d=>x(d[0])).y(d=>yl(d[1])).curve(d3.curveStepAfter);

  const drawLine=(data,gen,col)=>{
    g.append('path').attr('d',gen(data)).attr('fill','none').attr('stroke',col)
     .attr('stroke-width',2.4).attr('stroke-opacity',0.25).attr('stroke-linejoin','miter');
    g.append('path').attr('d',gen(data)).attr('fill','none').attr('stroke',col)
     .attr('stroke-width',1.1).attr('stroke-opacity',0.9);
  };
  drawLine(blue,line,BLUE);
  drawLine(red,line,RED);
  drawLine(blueLow,lineL,BLUE);
  drawLine(redLow,lineL,RED);

  dots.forEach(d=>{
    const cx=x(d[0]), cy=y(d[1]);
    const col=d[2][0]==='r'?'#ff0000':'#0000ff';
    if(d[2][1]==='o'){
      g.append('circle').attr('cx',cx).attr('cy',cy).attr('r',2.6).attr('fill','none')
       .attr('stroke',col).attr('stroke-width',1.1);
    } else {
      g.append('rect').attr('x',cx-1.8).attr('y',cy-1.8).attr('width',3.6).attr('height',3.6).attr('fill',col);
    }
  });

  rects.forEach(r=>{
    g.append('rect').attr('x',x(r[0])).attr('y',y(r[2])).attr('width',x(r[1])-x(r[0])).attr('height',y(r[3])-y(r[2]))
     .attr('fill','none').attr('stroke','#ffff00').attr('stroke-width',4);
  });

  svg.append('text').attr('x',P.capX).attr('y',P.capY).attr('text-anchor','middle')
   .attr('font-family','"DejaVu Serif","Liberation Serif",serif').attr('font-size',24)
   .attr('fill','#111').text(captions[i]);
});
</script>
</body></html>
